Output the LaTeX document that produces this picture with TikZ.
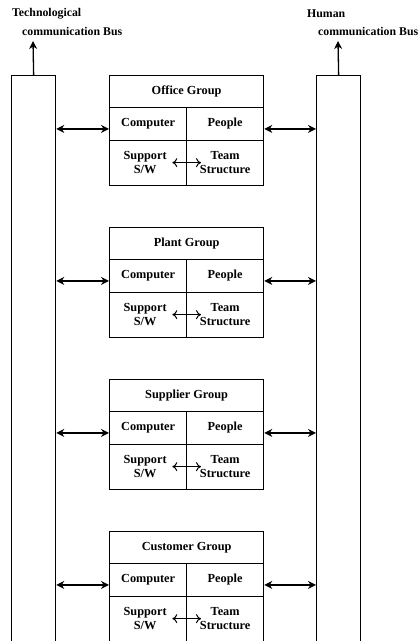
\documentclass[tikz,border=0pt]{standalone}
\usepackage{fontspec}
\setmainfont{Liberation Serif}
\usetikzlibrary{arrows.meta}
\begin{document}
\begin{tikzpicture}[x=1pt,y=-1pt,
  cell/.style={draw, line width=1.3pt, inner sep=0pt, anchor=north west, minimum width=77pt, align=center,
     font=\fontsize{12.3}{15.5}\selectfont\bfseries},
  title/.style={cell, minimum width=154pt, minimum height=32pt},
  row/.style={cell, minimum height=32.5pt},
  lowrow/.style={cell, minimum height=45pt},
  bus/.style={draw, line width=1.3pt, anchor=north west, minimum width=44pt, minimum height=572pt, inner sep=0pt},
  lbl/.style={anchor=west, inner sep=0pt, font=\fontsize{11.8}{14}\selectfont\bfseries},
  outarrow/.style={line width=1.3pt, {Stealth[length=8pt,width=8pt]}-{Stealth[length=8pt,width=8pt]}},
  uparrow/.style={line width=1.3pt, -{Stealth[length=8pt,width=8pt]}},
  inarrow/.style={line width=1pt, {To[length=5pt,width=9pt]}-{To[length=5pt,width=9pt]}}
]
\useasboundingbox (0,0) rectangle (419,641);
\node[bus] (tb) at (11,75) {};
\node[bus] (hb) at (316,75) {};
\coordinate (ttop) at (33,41);
\coordinate (htop) at (338,41);
\draw[uparrow] (tb.north) -- (ttop);
\draw[uparrow] (hb.north) -- (htop);
\node[lbl] (t1) at (12,14) {Technological};
\node[lbl] (t2) at (22,31) {communication Bus};
\node[lbl] (h1) at (307,14) {Human};
\node[lbl] (h2) at (318,31) {communication Bus};
\foreach \i/\T/\name in {1/75/Office, 2/227/Plant, 3/379/Supplier, 4/531/Customer}{
  \node[title] (g\i t) at (109,\T) {\name\ Group};
  \node[row] (g\i c) at (109,\T+32) {Computer};
  \node[row] (g\i p) at (186,\T+32) {People};
  \node[lowrow, text width=70pt] (g\i s) at (109,\T+64.5) {\hspace*{-6pt}Support\\[-1pt]\hspace*{-6pt}S/W};
  \node[lowrow] (g\i m) at (186,\T+64.5) {Team\\[-1pt]Structure};
  \draw[outarrow] ([yshift=-5pt]tb.east |- g\i c.west) -- ([yshift=-5pt]g\i c.west);
  \draw[outarrow] ([yshift=-5pt]g\i p.east) -- ([yshift=-5pt]hb.west |- g\i p.east);
  \draw[inarrow] ([xshift=-15pt]g\i s.east) -- ([xshift=15pt]g\i m.west);
}
\end{tikzpicture}
\end{document}
